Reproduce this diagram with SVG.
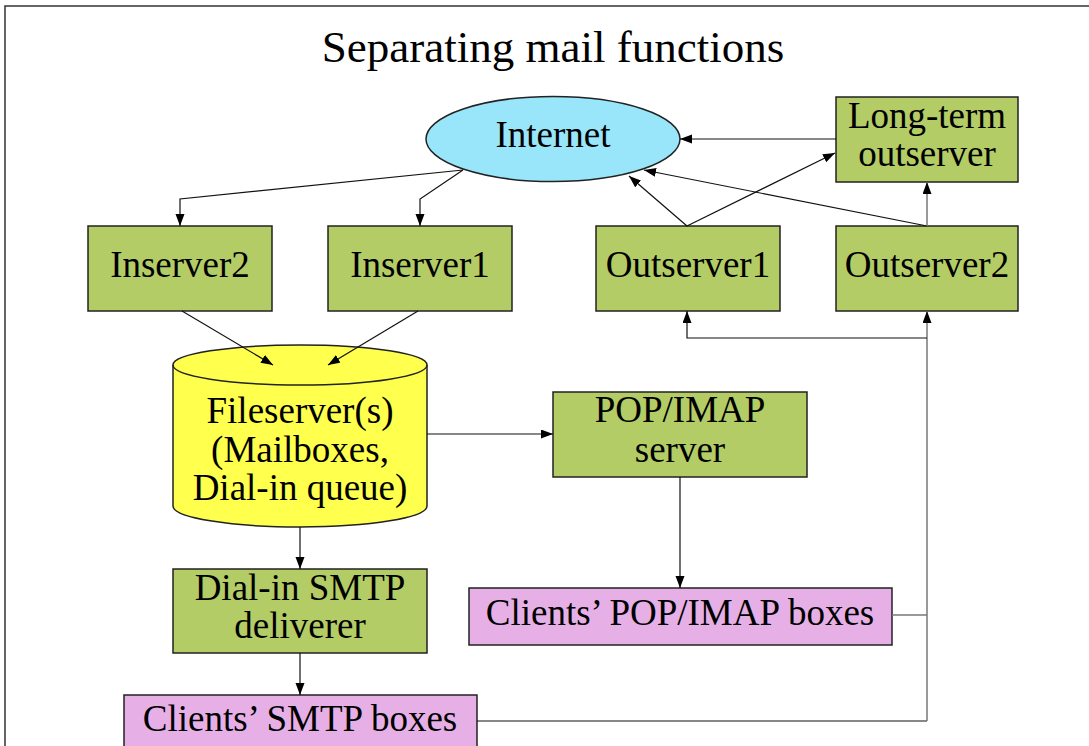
<svg xmlns="http://www.w3.org/2000/svg" width="1089" height="746" viewBox="0 0 1089 746">
<defs>
<marker id="ah" markerWidth="12" markerHeight="10" refX="12" refY="4.5" orient="auto" markerUnits="userSpaceOnUse">
<path d="M0,0 L12,4.5 L0,9 z" fill="#000"/>
</marker>
<style>
text{font-family:"Liberation Serif","Times New Roman",serif;font-size:37px;fill:#000;text-anchor:middle}
.title{font-size:45px}
.box{stroke:#222;stroke-width:1.5}
.green{fill:#b3cc66}
.pink{fill:#e6b0e6}
.e{fill:none;stroke:#111;stroke-width:1.2;marker-end:url(#ah)}
.g{fill:none;stroke:#777;stroke-width:1.5}
.gl{fill:none;stroke:#777;stroke-width:1.5;marker-end:url(#ah)}
.n{fill:none;stroke:#111;stroke-width:1.2}
</style>
</defs>
<rect width="1089" height="746" fill="#fff"/>
<path d="M5,746 L5,6 L1089,6" fill="none" stroke="#333" stroke-width="1.5"/>
<text class="title" x="553" y="62">Separating mail functions</text>

<g id="internet">
<ellipse cx="553" cy="139" rx="127" ry="42.5" fill="#99e6fa" class="box"/>
<text x="553" y="147">Internet</text>
</g>
<g id="longterm">
<rect x="836" y="97" width="182" height="85" class="box green"/>
<text x="927" y="128">Long-term</text>
<text x="927" y="166">outserver</text>
</g>
<g id="inserver2">
<rect x="88" y="226" width="184" height="85" class="box green"/>
<text x="180" y="277">Inserver2</text>
</g>
<g id="inserver1">
<rect x="328" y="226" width="184" height="85" class="box green"/>
<text x="420" y="277">Inserver1</text>
</g>
<g id="outserver1">
<rect x="596" y="226" width="184" height="85" class="box green"/>
<text x="688" y="277">Outserver1</text>
</g>
<g id="outserver2">
<rect x="836" y="226" width="182" height="85" class="box green"/>
<text x="927" y="277">Outserver2</text>
</g>
<g id="fileserver">
<path d="M173,365 A127,20 0 0,1 427,365 L427,506 A127,21 0 0,1 173,506 Z" fill="#ffff4d" class="box"/>
<path d="M173,365 A127,20 0 0,0 427,365" fill="none" class="box"/>
<text x="300" y="423">Fileserver(s)</text>
<text x="300" y="462">(Mailboxes,</text>
<text x="300" y="500">Dial-in queue)</text>
</g>
<g id="popimap">
<rect x="553" y="392" width="254" height="85" class="box green"/>
<text x="680" y="422">POP/IMAP</text>
<text x="680" y="462">server</text>
</g>
<g id="dialin">
<rect x="173" y="569" width="254" height="84" class="box green"/>
<text x="300" y="600">Dial-in SMTP</text>
<text x="300" y="638">deliverer</text>
</g>
<g id="clientspop">
<rect x="469" y="588" width="423" height="57" class="box pink"/>
<text x="680" y="625">Clients’ POP/IMAP boxes</text>
</g>
<g id="clientssmtp">
<rect x="124" y="695" width="353" height="70" class="box pink"/>
<text x="300" y="731">Clients’ SMTP boxes</text>
</g>

<g id="connectors">
<polyline class="e" points="463,170 180,199 180,226"/>
<polyline class="e" points="463,170 420,199 420,226"/>
<line class="e" x1="182" y1="311" x2="273" y2="365"/>
<line class="e" x1="418" y1="311" x2="328" y2="365"/>
<line class="e" x1="427" y1="434" x2="553" y2="434"/>
<line class="e" x1="680" y1="477" x2="680" y2="588"/>
<line class="e" x1="300" y1="527" x2="300" y2="569"/>
<line class="e" x1="300" y1="653" x2="300" y2="695"/>
<line class="e" x1="836" y1="139" x2="680" y2="139"/>
<line class="e" x1="687" y1="226" x2="629" y2="176"/>
<line class="e" x1="687" y1="226" x2="835" y2="153"/>
<line class="e" x1="927" y1="226" x2="644" y2="170"/>
<line class="gl" x1="927" y1="226" x2="927" y2="182"/>
<polyline class="n" points="477,721 927,721"/>
<polyline class="g" points="892,615 927,615"/>
<polyline class="gl" points="927,721 927,311"/>
<polyline class="e" points="927,338 687,338 687,311"/>
</g>
</svg>
